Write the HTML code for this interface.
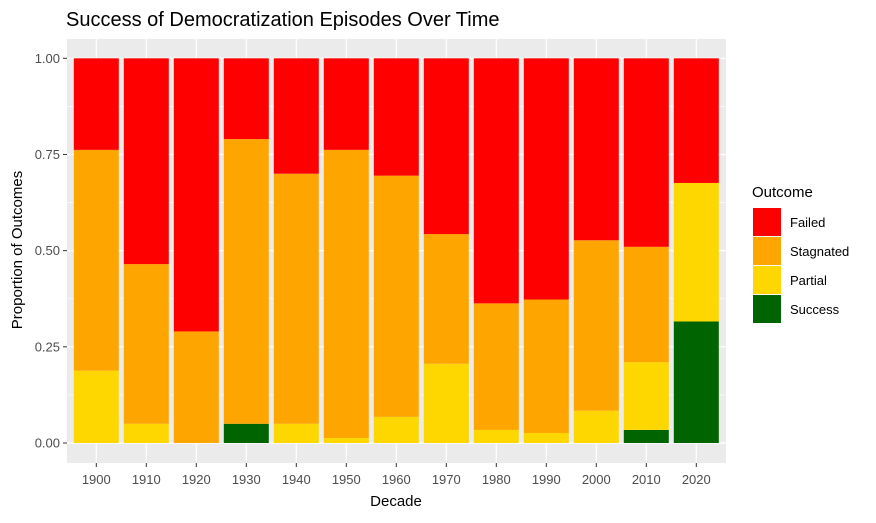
<!DOCTYPE html>
<html><head><meta charset="utf-8"><style>
body{margin:0;background:#fff;}
svg text{font-family:"Liberation Sans",Arial,sans-serif;}
</style></head><body>
<svg id="chart" width="876" height="518" xmlns="http://www.w3.org/2000/svg">
<text x="66" y="26" font-size="20" fill="#000">Success of Democratization Episodes Over Time</text>
<rect x="67" y="39" width="659" height="424" fill="#EBEBEB"/>
<g id="grid"></g><g id="bars"></g><g id="axes"></g>
<text x="396" y="506" font-size="15" text-anchor="middle" fill="#000">Decade</text>
<text transform="translate(22,250) rotate(-90)" font-size="15" text-anchor="middle" fill="#000">Proportion of Outcomes</text>
<g id="legend">
<text x="752" y="197" font-size="15" fill="#000">Outcome</text>
</g>
</svg>
<script>
const decades=["1900","1910","1920","1930","1940","1950","1960","1970","1980","1990","2000","2010","2020"];
const success=[0,0,0,0.05,0,0,0,0,0,0,0,0.034,0.316];
const partial=[0.188,0.05,0,0,0.05,0.013,0.068,0.206,0.034,0.026,0.084,0.176,0.36];
const stagnated=[0.574,0.415,0.29,0.74,0.65,0.749,0.627,0.337,0.329,0.347,0.443,0.30,0];
const yTicks=[0,0.25,0.5,0.75,1];
const yTickLabels=["0.00","0.25","0.50","0.75","1.00"];
const ns="http://www.w3.org/2000/svg";
const x0=96.3,step=50,bw=45;
const xs=i=>x0+i*step;
const ys=v=>443-v*384.7;
function mk(t,a,p){const e=document.createElementNS(ns,t);for(const k in a)e.setAttribute(k,a[k]);p.appendChild(e);return e;}
const grid=document.getElementById('grid'),bars=document.getElementById('bars'),axes=document.getElementById('axes');
for(let i=0;i<yTicks.length-1;i++){const m=(yTicks[i]+yTicks[i+1])/2;const l=mk('line',{x1:67,x2:726,y1:ys(m),y2:ys(m),stroke:'#fff','stroke-width':0.6},grid);

}
yTicks.forEach((v,i)=>{const l=mk('line',{x1:67,x2:726,y1:ys(v),y2:ys(v),stroke:'#fff','stroke-width':1.2},grid);


const t=mk('line',{x1:63,x2:67,y1:ys(v),y2:ys(v),stroke:'#333','stroke-width':1},axes);


const tx=mk('text',{x:60,y:ys(v)+4.5,'font-size':13,'text-anchor':'end',fill:'#4D4D4D'},axes);tx.textContent=yTickLabels[i];

});
const cols={Success:'#006400',Partial:'#FFD700',Stagnated:'#FFA500',Failed:'#FF0000'};
decades.forEach((d,i)=>{const x=xs(i);
const g=mk('line',{x1:x,x2:x,y1:39,y2:463,stroke:'#fff','stroke-width':1.2},grid);


const failed=Math.max(0,1-success[i]-partial[i]-stagnated[i]);
const segs=[['Success',success[i]],['Partial',partial[i]],['Stagnated',stagnated[i]],['Failed',failed]];
let c=0;segs.forEach(([n,v])=>{if(v<=0)return;const r=mk('rect',{x:x-bw/2,y:ys(c+v),width:bw,height:ys(c)-ys(c+v),fill:cols[n]},bars);

c+=v;});
const t=mk('line',{x1:x,x2:x,y1:463,y2:467,stroke:'#333','stroke-width':1},axes);


const tx=mk('text',{x:x,y:484,'font-size':13,'text-anchor':'middle',fill:'#4D4D4D'},axes);tx.textContent=d;

});
const lg=document.getElementById('legend');
['Failed','Stagnated','Partial','Success'].forEach((n,i)=>{const y=208+i*29;
const r=mk('rect',{x:753,y:y,width:28,height:28,fill:cols[n]},lg);


const t=mk('text',{x:790,y:y+19,'font-size':13,fill:'#000'},lg);t.textContent=n;

});
</script>
</body></html>
